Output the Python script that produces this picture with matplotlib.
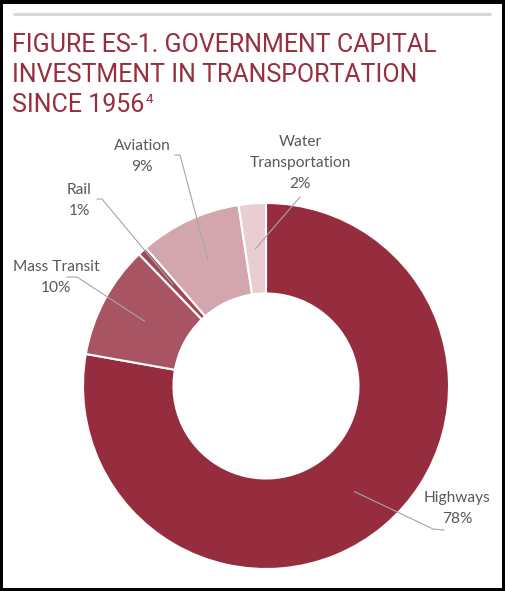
import numpy as np
import matplotlib
matplotlib.use("Agg")
from matplotlib import pyplot as plt
from matplotlib.patches import Rectangle

# data (share of capital investment, %)
modes = ["Highways", "Mass Transit", "Rail", "Aviation", "Water\nTransportation"]
shares = [77.8, 10.0, 0.8, 9.0, 2.4]
share_labels = ["78%", "10%", "1%", "9%", "2%"]
colors = ["#962d3e", "#a85462", "#9e4856", "#d3a6ad", "#e8ced3"]

title_lines = ["FIGURE ES-1. GOVERNMENT CAPITAL", "INVESTMENT IN TRANSPORTATION", "SINCE 1956"]
title_note = "4"

W, H = 505, 591

# label layout in pixel coords (x, y of first line), and where the leader starts
label_pos = [(457, 498), (56, 267), (79, 190), (142, 146), (300, 142)]
leader_start = [[(444, 530), (433, 529)],
                [(67, 277), (77, 277)],
                [(97, 199), (102, 199)],
                [(175, 155), (180, 155)],
                [(300, 197)]]

def Y(py):
    return H - py

fig = plt.figure(figsize=(W / 100, H / 100), dpi=100)
fig.patch.set_facecolor("black")
ax = fig.add_axes([0, 0, 1, 1])
ax.set_facecolor("black")

# white card inside the black frame
ax.add_patch(Rectangle((3, 3), W - 6, H - 7, facecolor="white", edgecolor="none", zorder=0))
ax.plot([13, 491], [Y(13.5), Y(13.5)], color="#d9d9d9", lw=2.2, solid_capstyle="butt", zorder=1)

cx, cy = 266, Y(386)
r_out, r_in = 183, 92.5
wedges, _ = ax.pie(shares, colors=colors, startangle=90, counterclock=False,
                   radius=r_out, center=(cx, cy),
                   wedgeprops=dict(width=r_out - r_in, edgecolor="white", linewidth=1.5))

ax.set_xlim(0, W)
ax.set_ylim(0, H)
ax.set_aspect("equal")
ax.axis("off")

title_color = "#982f3f"
tfont = ["Roboto", "DejaVu Sans"]
baselines = [52, 82, 112]
last = None
for line, b in zip(title_lines, baselines):
    last = ax.text(12, Y(b), line, fontsize=18, color=title_color, family=tfont,
                   ha="left", va="baseline")

fig.canvas.draw()
bb = last.get_window_extent()
ax.text(bb.x1 + 1, Y(93), title_note, fontsize=9.5, color=title_color, family=tfont,
        ha="left", va="top")

label_color = "#595959"
lfont = ["Lato", "DejaVu Sans"]
r_mid = (r_out + r_in) / 2
for i, w in enumerate(wedges):
    ang = np.deg2rad((w.theta1 + w.theta2) / 2)
    ex, ey = cx + r_mid * np.cos(ang), cy + r_mid * np.sin(ang)
    pts = leader_start[i]
    xs = [p[0] for p in pts] + [ex]
    ys = [Y(p[1]) for p in pts] + [ey]
    ax.plot(xs, ys, color="#a6a6a6", lw=0.8, zorder=5)

    lx, ly = label_pos[i]
    name_lines = modes[i].split("\n") + [share_labels[i]]
    for k, t in enumerate(name_lines):
        ax.text(lx, Y(ly + 21 * k), t, fontsize=11.2, color=label_color, family=lfont,
                ha="center", va="center")

fig.savefig("out.png", dpi=100, facecolor=fig.get_facecolor())
